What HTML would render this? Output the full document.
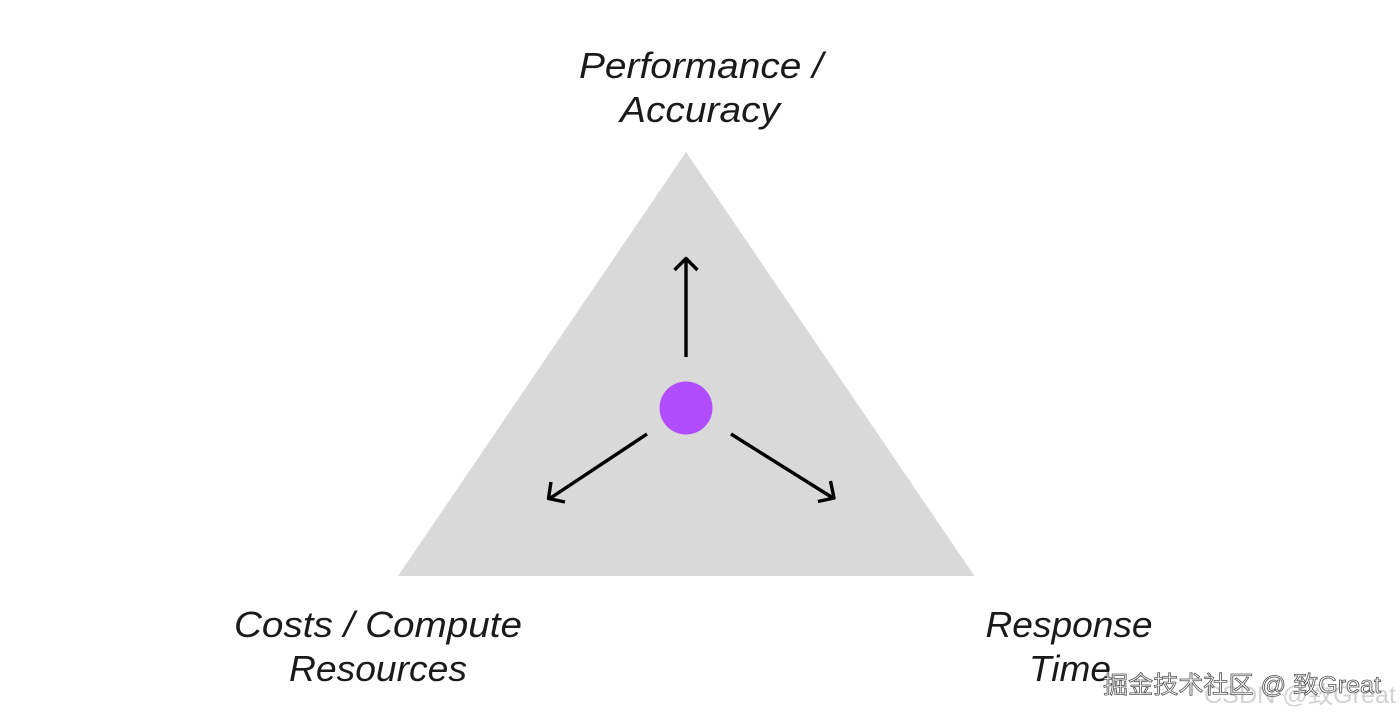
<!DOCTYPE html>
<html>
<head>
<meta charset="utf-8">
<style>
html,body{margin:0;padding:0;background:#fff;}
body{width:1400px;height:717px;overflow:hidden;position:relative;}
svg{position:absolute;left:0;top:0;}
text{font-family:"Liberation Sans",sans-serif;}
.l{font-size:36px;font-style:italic;fill:#1a1a1a;text-anchor:middle;}
.w{font-family:"Liberation Sans","Noto Sans CJK SC",sans-serif;font-size:24px;}
</style>
</head>
<body>
<svg width="1400" height="717" viewBox="0 0 1400 717" xmlns="http://www.w3.org/2000/svg">
<polygon points="686,152 974.500,576 398,576" fill="#d9d9d9"/>
<circle cx="686" cy="408" r="26.500" fill="#b14cff"/>
<g fill="none" stroke="#000" stroke-width="3.400" stroke-linejoin="round">
<path d="M686 357V259"/>
<path d="M674.500 270L686 258.500L697.500 270"/>
<path d="M647 434L549 499"/>
<path d="M551 482L548.500 498.500L565 502"/>
<path d="M731 434L833 498"/>
<path d="M818 501.500L834 498L830.500 481"/>
</g>
<text class="l" x="701" y="78" textLength="244" lengthAdjust="spacingAndGlyphs">Performance /</text>
<text class="l" x="700" y="122" textLength="160" lengthAdjust="spacingAndGlyphs">Accuracy</text>
<text class="l" x="378" y="637" textLength="288" lengthAdjust="spacingAndGlyphs">Costs / Compute</text>
<text class="l" x="378" y="681" textLength="178" lengthAdjust="spacingAndGlyphs">Resources</text>
<text class="l" x="1069" y="637" textLength="167" lengthAdjust="spacingAndGlyphs">Response</text>
<text class="l" x="1070" y="681" textLength="82" lengthAdjust="spacingAndGlyphs">Time</text>
<text class="w" x="1204" y="703" fill="#d2d2d2" textLength="192" lengthAdjust="spacingAndGlyphs">CSDN @致Great</text>
<text class="w" x="1103" y="693" fill="#fff" stroke="#555" stroke-width="0.800" textLength="278" lengthAdjust="spacingAndGlyphs">掘金技术社区 @ 致Great</text>
</svg>
</body>
</html>
